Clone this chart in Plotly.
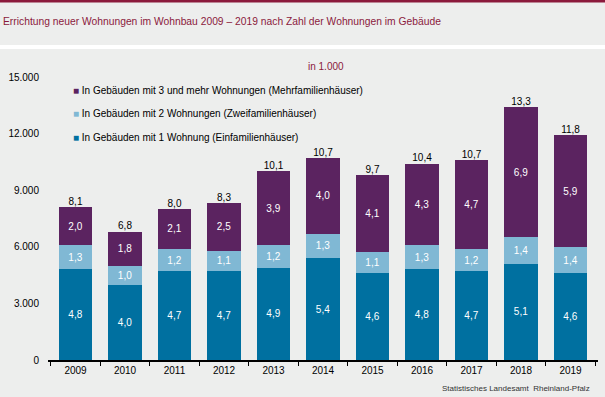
import plotly.graph_objects as go

years = ["2009", "2010", "2011", "2012", "2013", "2014", "2015", "2016", "2017", "2018", "2019"]
ein = [4.8, 4.0, 4.7, 4.7, 4.9, 5.4, 4.6, 4.8, 4.7, 5.1, 4.6]
zwei = [1.3, 1.0, 1.2, 1.1, 1.2, 1.3, 1.1, 1.3, 1.2, 1.4, 1.4]
mehr = [2.0, 1.8, 2.1, 2.5, 3.9, 4.0, 4.1, 4.3, 4.7, 6.9, 5.9]
totals = [8.1, 6.8, 8.0, 8.3, 10.1, 10.7, 9.7, 10.4, 10.7, 13.3, 11.8]
names = [
    "In Gebäuden mit 1 Wohnung (Einfamilienhäuser)",
    "In Gebäuden mit 2 Wohnungen (Zweifamilienhäuser)",
    "In Gebäuden mit 3 und mehr Wohnungen (Mehrfamilienhäuser)",
]
colors = ["#0070a0", "#80b8d4", "#5b2360"]
y_ticks = [0, 3000, 6000, 9000, 12000, 15000]

BG = "#edeeed"
MAROON = "#8b1a3c"
FONT = "Liberation Sans, Arial, sans-serif"

def fmt(v):
    return f"{v:.1f}".replace(".", ",")

fig = go.Figure()
for vals, name, col in zip([ein, zwei, mehr], names, colors):
    fig.add_trace(go.Bar(
        x=years, y=[v * 1000 for v in vals], name=name,
        marker=dict(color=col, line=dict(width=0)),
        text=[fmt(v) for v in vals], texttemplate="%{text}",
        textposition="inside", insidetextanchor="middle",
        textfont=dict(color="white", size=10, family=FONT),
        showlegend=False,
    ))

stack_top = [(a + b + c) * 1000 for a, b, c in zip(ein, zwei, mehr)]
fig.add_trace(go.Scatter(
    x=years, y=stack_top, mode="text", text=[fmt(t) for t in totals],
    textposition="top center", textfont=dict(color="black", size=10, family=FONT),
    showlegend=False, hoverinfo="skip",
))

W, H = 605, 397
L, R, T, B = 48, 7, 77, 37
pw, ph = W - L - R, H - T - B

def px(xp):
    return (xp - L) / pw

def py(yp):
    return (H - B - yp) / ph

shapes = [
    dict(type="rect", xref="paper", yref="paper", x0=px(0), x1=px(W), y0=py(2.5), y1=py(0),
         fillcolor=MAROON, line=dict(width=0), layer="below"),
    dict(type="rect", xref="paper", yref="paper", x0=px(0), x1=px(W), y0=py(49), y1=py(45),
         fillcolor="white", line=dict(width=0), layer="below"),
]

annotations = [
    dict(text="Errichtung neuer Wohnungen im Wohnbau 2009 – 2019 nach Zahl der Wohnungen im Gebäude",
         xref="paper", yref="paper", x=px(1), y=py(22), xanchor="left", yanchor="middle",
         showarrow=False, font=dict(family=FONT, size=10.3, color=MAROON)),
    dict(text="in 1.000", xref="paper", yref="paper", x=px(326), y=py(67),
         xanchor="center", yanchor="middle", showarrow=False,
         font=dict(family=FONT, size=10, color=MAROON)),
    dict(text="Statistisches Landesamt  Rheinland-Pfalz", xref="paper", yref="paper",
         x=px(592), y=py(388), xanchor="right", yanchor="middle", showarrow=False,
         font=dict(family=FONT, size=8, color="#333333")),
]
legend_rows = [(names[2], colors[2], 90), (names[1], colors[1], 113), (names[0], colors[0], 137)]
for name, col, yp in legend_rows:
    annotations.append(dict(
        text=f"<span style='color:{col}'>■</span> {name}", xref="paper", yref="paper",
        x=px(71), y=py(yp), xanchor="left", yanchor="middle", showarrow=False,
        font=dict(family=FONT, size=10, color="black"),
    ))

fig.update_layout(
    width=W, height=H, margin=dict(l=L, r=R, t=T, b=B, autoexpand=False),
    paper_bgcolor=BG, plot_bgcolor=BG,
    barmode="stack", bargap=0.32,
    separators=",.",
    font=dict(family=FONT, size=10, color="black"),
    shapes=shapes, annotations=annotations,
    xaxis=dict(type="category", showline=True, linecolor="black", linewidth=1.5,
               ticks="outside", tickson="boundaries", ticklen=4, tickcolor="black",
               showgrid=False, tickfont=dict(size=10, color="black"), fixedrange=True,
               automargin=False),
    yaxis=dict(range=[0, 15000], tickvals=y_ticks, tickformat=",", showgrid=False,
               zeroline=False, showline=False, ticks="", ticklabelstandoff=8,
               tickfont=dict(size=10, color="black"), fixedrange=True, automargin=False),
)

fig.write_html("out.html", config={"displayModeBar": False},
               post_script="document.body.style.margin='0';document.body.style.overflow='hidden';")
